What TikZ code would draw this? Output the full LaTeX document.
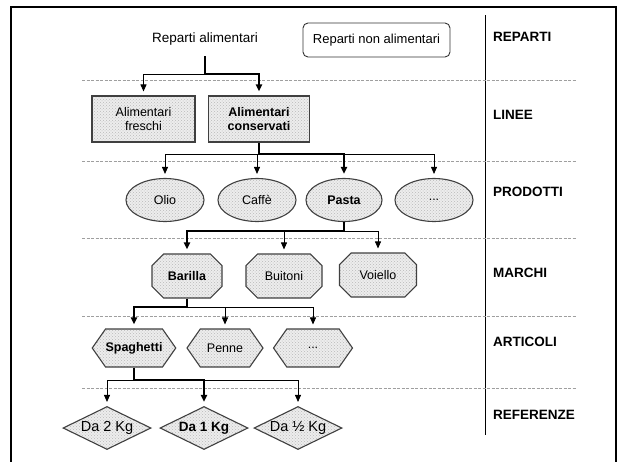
\documentclass[tikz,border=0pt]{standalone}
\usepackage{fontspec}
\setmainfont{Liberation Sans}
\usetikzlibrary{shapes.geometric,shapes.misc,shapes.symbols,arrows.meta,patterns}
\begin{document}
\begin{tikzpicture}[x=1pt,y=-1pt,
  shp/.style={draw=black!75, line width=1.1pt, preaction={fill=gray!14}, pattern=crosshatch dots,
    pattern color=gray!55, inner sep=0pt, align=center,
    font=\fontsize{12.5}{14.5}\selectfont},
  bshp/.style={shp, font=\bfseries\fontsize{12.5}{14.5}\selectfont},
  rectshp/.style={rectangle},
  ellshp/.style={ellipse, minimum width=78pt, minimum height=43pt},
  octshp/.style={chamfered rectangle, chamfered rectangle xsep=8pt, chamfered rectangle ysep=7pt,
    minimum height=44pt},
  hexshp/.style={signal, signal to=east and west, signal pointer angle=110, minimum height=38pt},
  diashp/.style={diamond, aspect=2, minimum width=88pt, minimum height=43pt,
    font=\fontsize{14.5}{16}\selectfont},
  bdiashp/.style={diamond, aspect=2, minimum width=88pt, minimum height=43pt,
    font=\bfseries\fontsize{13.5}{16}\selectfont},
  lvl/.style={anchor=west, inner sep=0pt, font=\bfseries\fontsize{13.5}{16}\selectfont},
  levelsep/.style={draw=gray!75, line width=0.8pt, dash pattern=on 3pt off 1.5pt},
  conn/.style={line width=0.8pt, -{Triangle[length=7pt,width=6pt]}, shorten >=4pt},
  bconn/.style={conn, line width=2.4pt}
]
\clip (0,0) rectangle (621,461);
\fill[white] (0,0) rectangle (621,461);
% frame
\draw[line width=2pt] (11,7) rectangle (616,480);
% column separator
\coordinate (septop) at (485,15);
\coordinate (sepbot) at (485,435);
\draw[line width=0.9pt] (septop) -- (sepbot);
% level separators
\foreach \yy/\nm in {80/a,161/b,238/c,316/d,388/e}{
  \coordinate (L\nm) at (82,\yy);
  \coordinate (R\nm) at (577,\yy);
  \draw[levelsep] (L\nm) -- (R\nm);
}
% level labels
\node[lvl] (lrep) at (493,37) {REPARTI};
\node[lvl] (llin) at (493,115) {LINEE};
\node[lvl] (lpro) at (493,192) {PRODOTTI};
\node[lvl] (lmar) at (493,273) {MARCHI};
\node[lvl] (lart) at (493,342) {ARTICOLI};
\node[lvl] (lref) at (493,415) {REFERENZE};
% reparti
\node[inner sep=0pt, minimum height=34pt, font=\fontsize{13.5}{15}\selectfont] (ra) at (205,39) {Reparti alimentari};
\node[draw=black!80, line width=0.9pt, rounded corners=5pt, minimum width=147pt, minimum height=34pt,
  font=\fontsize{13}{15}\selectfont] (rna) at (376.5,40) {Reparti non alimentari};
% linee
\node[shp, rectshp, minimum width=103pt, minimum height=46pt] (af) at (143.5,119) {Alimentari\\freschi};
\node[bshp, rectshp, minimum width=101pt, minimum height=46pt] (ac) at (259,119) {Alimentari\\conservati};
% prodotti
\node[shp, ellshp] (olio) at (165,200) {Olio};
\node[shp, ellshp] (caffe) at (257,200) {Caffè};
\node[bshp, ellshp, minimum width=76pt] (pasta) at (344,200) {Pasta};
\node[shp, ellshp] (dots1) at (434,200) {...};
% marchi
\node[bshp, octshp, minimum width=70pt] (barilla) at (187,276) {Barilla};
\node[shp, octshp, minimum width=76pt] (buitoni) at (284,276) {Buitoni};
\node[shp, octshp, minimum width=77pt] (voiello) at (378,275) {Voiello};
% articoli
\node[bshp, hexshp, minimum width=62pt] (spag) at (134,348) {Spaghetti};
\node[shp, hexshp, minimum width=76pt] (penne) at (225,348) {Penne};
\node[shp, hexshp, minimum width=79pt] (dots2) at (313,348) {...};
% referenze
\node[shp, diashp] (kg2) at (107,428) {Da 2 Kg};
\node[shp, bdiashp] (kg1) at (204,428) {Da 1 Kg};
\node[shp, diashp] (kghalf) at (298,428) {Da ½ Kg};
% connectors level 1
\coordinate (y1) at (0,74);
\draw[conn] (ra.south |- y1) -| (af.north);
\draw[bconn] (ra.south) -- (ra.south |- y1) -| (ac.north);
% level 2
\coordinate (y2) at (0,154);
\draw[conn] (ac.south |- y2) -| (olio.north);
\draw[conn] (ac.south |- y2) -| (dots1.north);
\draw[conn] (caffe.north |- y2) -- (caffe.north);
\draw[bconn] (ac.south) -- (ac.south |- y2) -| (pasta.north);
% level 3
\coordinate (y3) at (0,231);
\draw[conn] (pasta.south |- y3) -| (voiello.north);
\draw[conn] (buitoni.north |- y3) -- (buitoni.north);
\draw[bconn] (pasta.south) -- (pasta.south |- y3) -| (barilla.north);
% level 4
\coordinate (y4) at (0,307);
\draw[conn] (barilla.south |- y4) -| (dots2.north);
\draw[conn] (penne.north |- y4) -- (penne.north);
\draw[bconn] (barilla.south) -- (barilla.south |- y4) -| (spag.north);
% level 5
\coordinate (y5) at (0,380);
\draw[conn] (spag.south |- y5) -| (kg2.north);
\draw[conn] (kg1.north |- y5) -| (kghalf.north);
\draw[bconn] (spag.south) -- (spag.south |- y5) -| (kg1.north);
\end{tikzpicture}
\end{document}
